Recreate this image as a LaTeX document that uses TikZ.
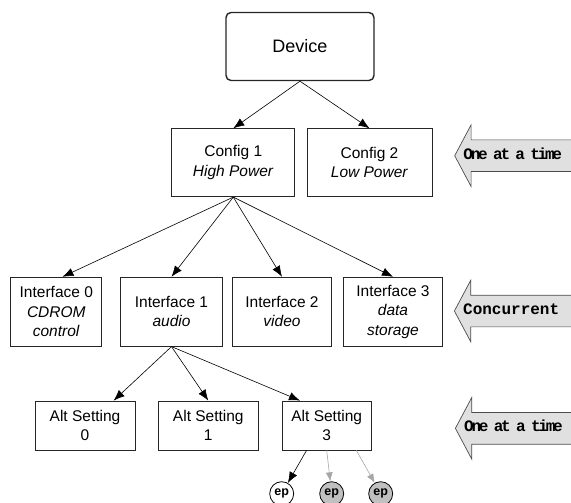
\documentclass[tikz,border=0pt]{standalone}
\usepackage{fontspec}
\setmainfont{Liberation Sans}
\newfontfamily\codefont{Liberation Mono}
\newfontfamily\tightcode{Liberation Mono}[LetterSpace=-14]
\usetikzlibrary{shapes.arrows, arrows.meta}
\definecolor{epgray}{HTML}{C0C0C0}
\definecolor{bargray}{HTML}{E0E0E0}
\tikzstyle{box}=[rectangle,
                 draw=black!85,
                 line width=0.8pt,
                 fill=white,
                 align=center,
                 inner sep=0pt,
                 font=\fontsize{15.5}{19.5}\selectfont ]
\tikzstyle{devicebox}=[box, rounded corners=5, line width=1.4pt,
                       font=\fontsize{18}{22}\selectfont ]
\tikzstyle{ep}=[circle, draw=black, line width=0.8pt, minimum size=24pt,
                inner sep=0pt, font=\bfseries\fontsize{12.5}{13}\selectfont ]
\tikzstyle{link}=[-{Latex[length=11pt,width=8.5pt]}, line width=0.6pt]
\tikzstyle{faint}=[-{Latex[length=9pt,width=7pt]}, line width=0.6pt, color=black!35]
\tikzstyle{banner}=[single arrow,
                    shape border rotate=180,
                    draw=black!70,
                    fill=bargray,
                    line width=0.7pt,
                    single arrow head extend=15pt,
                    single arrow tip angle=124,
                    text width=140pt, align=left,
                    inner xsep=0pt, inner ysep=8pt,
                    text height=11pt, text depth=4pt,
                    font=\codefont\bfseries\fontsize{16}{16}\selectfont ]
\tikzstyle{tightbanner}=[banner, font=\tightcode\bfseries\fontsize{16}{16}\selectfont]

\begin{document}
\begin{tikzpicture}[x=1pt, y=-1pt]
    \useasboundingbox (0,0) rectangle (571,503);

    \node at (300, 46.5) (device) [devicebox, minimum width=148pt, minimum height=68pt] {Device};

    \node at (233.3, 162.7) (cfg1) [box, minimum width=123pt, minimum height=68pt] {Config 1\\ \textit{High Power}};
    \node at (369.5, 162.7) (cfg2) [box, minimum width=125pt, minimum height=68pt] {Config 2\\ \textit{Low Power}};

    \node at (56.3, 311.7) (if0) [box, minimum width=91pt, minimum height=69pt] {Interface 0\\ \textit{CDROM}\\ \textit{control}};
    \node at (171.5, 311.7) (if1) [box, minimum width=101.5pt, minimum height=69pt] {Interface 1\\ \textit{audio}};
    \node at (282, 311.7) (if2) [box, minimum width=99.5pt, minimum height=69pt] {Interface 2\\ \textit{video}};
    \node at (393, 311.7) (if3) [box, minimum width=99.5pt, minimum height=69pt] {Interface 3\\ \textit{data}\\ \textit{storage}};

    \foreach \x/\w/\n in {85/100/0, 208.3/100/1, 326.7/88.5/3} {
        \node at (\x, 425.5) (alt\n) [box, minimum width=\w pt, minimum height=49pt] {Alt Setting\\ \n};
    }

    \node at (281.7, 493.7) (ep1) [ep, fill=white] {ep};
    \node at (331.7, 493.7) (ep2) [ep, fill=epgray] {ep};
    \node at (380.7, 493.7) (ep3) [ep, fill=epgray] {ep};

    \node at (454.3, 155.7) (once1) [tightbanner, anchor=tip] {One at a time};
    \node at (454, 311) (concur) [banner, anchor=tip] {Concurrent};
    \node at (455, 428.3) (once2) [tightbanner, anchor=tip] {One at a time};

    \draw[link] (device.south) -- (cfg1.north);
    \draw[link] (device.south) -- (cfg2.north);

    \draw[link] (cfg1.south) -- (if0.80);
    \draw[link] (cfg1.south) -- (if1.north);
    \draw[link] (cfg1.south) -- (if2.north);
    \draw[link] (cfg1.south) -- (if3.north);

    \draw[link] (if1.south) -- (alt0.41);
    \draw[link] (if1.south) -- (alt1.north);
    \draw[link] (if1.south) -- (alt3.137);

    \draw[link] (alt3.231) -- (ep1);
    \draw[faint] (alt3.south) -- (ep2);
    \draw[faint] (alt3.320) -- (ep3);
\end{tikzpicture}
\end{document}
